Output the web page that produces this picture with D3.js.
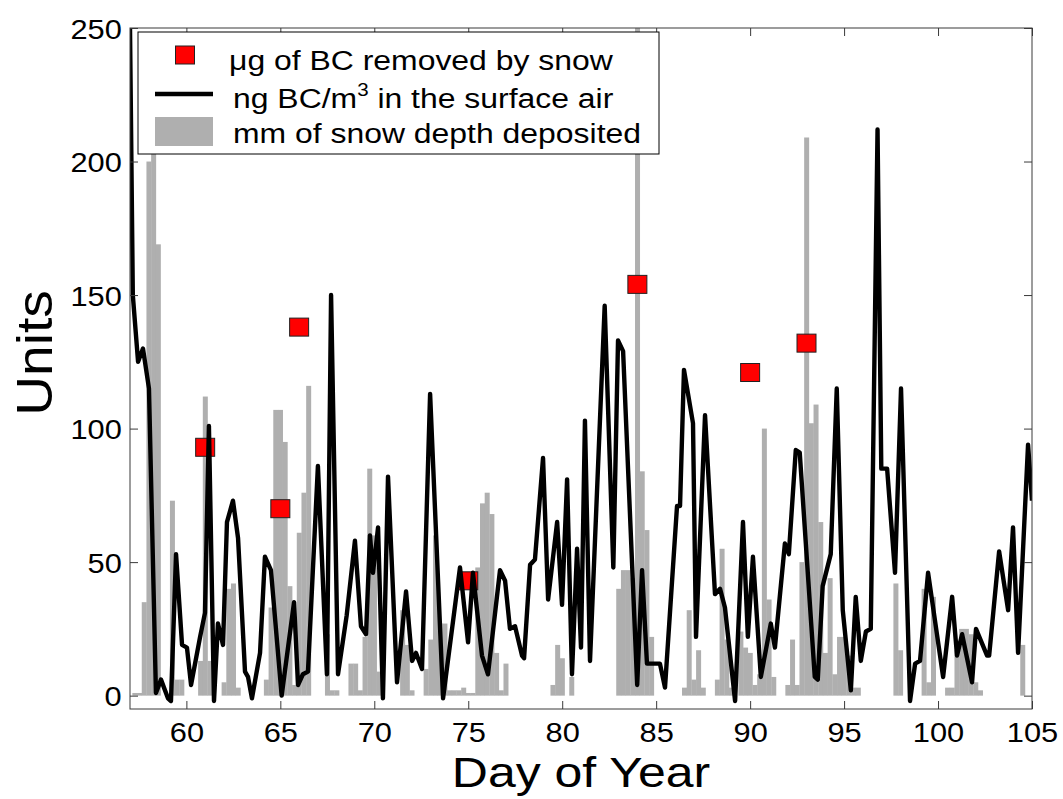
<!DOCTYPE html>
<html>
<head>
<meta charset="utf-8">
<script src="https://cdn.jsdelivr.net/npm/d3@7"></script>
<style>
  body { margin: 0; background: #fff; }
  svg { display: block; }
  text { font-family: "Liberation Sans", Arial, sans-serif; fill: #000; }
</style>
</head>
<body>
<svg id="chart" width="1063" height="799"></svg>
<script>
// Surface-air BC concentration (ng/m3), day of year and value at each vertex
const airDays = [57.00, 57.15, 57.43, 57.69, 58.01, 58.38, 58.65, 59.02, 59.18, 59.45, 59.77, 60.03, 60.25, 60.73, 60.99, 61.20, 61.47, 61.68, 61.95, 62.16, 62.48, 62.75, 63.12, 63.28, 63.49, 63.92, 64.18, 64.50, 65.07, 65.73, 65.94, 66.20, 66.47, 67.00, 67.48, 67.70, 68.07, 68.53, 68.97, 69.29, 69.56, 69.77, 69.93, 70.20, 70.46, 70.73, 71.21, 71.69, 72.01, 72.22, 72.38, 72.54, 72.97, 73.66, 74.56, 74.99, 75.25, 75.73, 76.05, 76.69, 76.96, 77.22, 77.49, 77.86, 77.97, 78.29, 78.55, 78.98, 79.25, 79.73, 79.99, 80.26, 80.52, 80.79, 81.00, 81.21, 81.48, 82.26, 82.72, 82.97, 83.24, 83.99, 84.25, 84.51, 85.20, 85.47, 86.11, 86.27, 86.48, 86.96, 87.12, 87.60, 88.13, 88.40, 88.66, 89.20, 89.62, 89.88, 90.15, 90.57, 91.10, 91.32, 91.85, 92.06, 92.43, 92.64, 93.44, 93.60, 93.86, 94.29, 94.61, 94.93, 95.36, 95.62, 95.89, 96.16, 96.42, 96.78, 96.98, 97.29, 97.71, 98.03, 98.51, 98.78, 99.04, 99.47, 100.27, 100.75, 101.01, 101.28, 101.81, 102.02, 102.61, 102.72, 103.25, 103.73, 103.99, 104.26, 104.79, 105.00];
const airBC = [250, 150, 125, 130, 115, 1, 6, -1, -2, 53, 19, 18, 4, 22, 31, 101, -2, 27, 19, 65, 73, 59, 9, 7, -1, 16, 52, 47, 0, 35, 4, 8, 9, 86, 8, 150, 8, 30, 58, 26, 23, 60, 46, 63, -1, 82, 5, 39, 13, 16, 13, 10, 113, -1, 48, 20, 46, 15, 8, 47, 43, 25, 26, 15, 14, 49, 51, 89, 36, 65, 34, 81, 8, 55, 18, 103, 13, 146, 48, 133, 129, 4, 47, 12, 12, 3, 71, 71, 122, 102, 22, 105, 38, 40, 33, -2, 65, 22, 52, 7, 27, 18, 57, 53, 92, 91, 7, 6, 41, 53, 115, 32, 2, 37, 13, 24, 25, 212, 85, 85, 46, 115, -2, 12, 13, 46, 7, 37, 15, 23, 5, 25, 15, 15, 54, 32, 63, 16, 94, 73];

// Snow depth deposited (mm) per 6-hour step
const snowDays = [57.25, 57.5, 57.75, 58.0, 58.25, 58.5, 59.25, 59.5, 59.75, 60.75, 61.0, 61.25, 62.0, 62.25, 62.5, 62.75, 64.25, 64.5, 64.75, 65.0, 65.25, 65.5, 65.75, 66.0, 66.25, 66.5, 67.5, 67.75, 68.0, 68.75, 69.0, 69.25, 69.5, 69.75, 70.0, 70.25, 71.5, 71.75, 72.0, 72.75, 73.0, 73.25, 73.5, 73.75, 74.0, 74.25, 74.5, 74.75, 75.0, 75.25, 75.5, 75.75, 76.0, 76.25, 76.5, 76.75, 77.0, 79.5, 79.75, 80.0, 80.5, 83.0, 83.25, 83.5, 83.75, 84.0, 84.25, 84.5, 84.75, 86.5, 86.75, 87.0, 87.25, 87.5, 88.25, 88.5, 88.75, 89.0, 89.5, 89.75, 90.0, 90.25, 90.5, 90.75, 91.0, 91.25, 92.0, 92.25, 92.5, 92.75, 93.0, 93.25, 93.5, 93.75, 94.0, 94.25, 94.5, 94.75, 95.0, 95.25, 95.5, 95.75, 97.75, 98.0, 99.25, 99.5, 99.75, 100.5, 100.75, 101.0, 101.25, 101.5, 101.75, 102.0, 102.25, 104.5];
const snowDepth = [1, 1, 35, 200, 220, 169, 73, 6, 6, 13, 112, 13, 5, 40, 42, 3, 6, 33, 107, 107, 95, 41, 4, 61, 76, 116, 23, 2, 2, 12, 12, 2, 22, 85, 60, 9, 32, 19, 2, 10, 21, 60, 27, 27, 2, 2, 2, 3, 1, 1, 48, 72, 76, 68, 16, 2, 12, 4, 19, 14, 7, 40, 47, 47, 44, 260, 84, 62, 22, 3, 32, 6, 17, 3, 6, 55, 21, 3, 24, 18, 16, 4, 8, 100, 36, 7, 4, 21, 4, 50, 209, 102, 109, 65, 16, 44, 8, 22, 22, 15, 3, 3, 42, 17, 40, 5, 37, 3, 3, 17, 25, 25, 23, 5, 2, 19];

// BC removed by snow (ug) for the snow events
const removedDays = [61, 65, 66, 75, 84, 90, 93];
const removedBC = [93, 70, 138, 43, 154, 121, 132];

const xTicks = [60, 65, 70, 75, 80, 85, 90, 95, 100, 105];
const yTicks = [0, 50, 100, 150, 200, 250];
const legendLabels = ["\u03bcg of BC removed by snow", "ng BC/m", "mm of snow depth deposited"];

const plot = { left: 130, right: 1032, top: 28, bottom: 709 };
const stretch = 1.1;             // horizontal stretch of tick labels
const legendStretch = 1.14;      // horizontal stretch of legend text
const barStep = 0.25;            // 6-hourly snow steps
const grayFill = "#afafaf";
const axisColor = "#3a3a3a";
const lineWidth = 4.4;

const svg = d3.select("#chart");

const x = d3.scaleLinear().domain([57, 105]).range([plot.left, plot.right]);
const y = d3.scaleLinear().domain([-5, 250]).range([plot.bottom, plot.top]);

svg.append("defs").append("clipPath").attr("id", "plotClip")
  .append("rect")
  .attr("x", plot.left).attr("y", plot.top)
  .attr("width", plot.right - plot.left).attr("height", plot.bottom - plot.top);

const content = svg.append("g").attr("clip-path", "url(#plotClip)");

// snow-depth bars, each centred on its time step
const barW = x(57 + barStep) - x(57);
content.append("g").selectAll("rect")
  .data(snowDays.map((d, i) => ({ day: d, v: snowDepth[i] })))
  .join("rect")
  .attr("x", d => x(d.day) - barW / 2)
  .attr("width", barW + 0.3)
  .attr("y", d => y(d.v))
  .attr("height", d => y(0) - y(d.v))
  .attr("fill", grayFill);

// BC removed markers
const sqW = 19, sqH = 18;
content.append("g").selectAll("rect")
  .data(removedDays.map((d, i) => ({ day: d, v: removedBC[i] })))
  .join("rect")
  .attr("x", d => x(d.day) - sqW / 2)
  .attr("y", d => y(d.v) - sqH / 2)
  .attr("width", sqW).attr("height", sqH)
  .attr("fill", "#ff0000").attr("stroke", "#222").attr("stroke-width", 1);

// surface air concentration line
const line = d3.line().x(d => x(d[0])).y(d => y(d[1]));
content.append("path")
  .datum(airDays.map((d, i) => [d, airBC[i]]))
  .attr("d", line)
  .attr("fill", "none")
  .attr("stroke", "#000")
  .attr("stroke-width", lineWidth)
  .attr("stroke-linejoin", "round");

// axes box
svg.append("rect")
  .attr("x", plot.left).attr("y", plot.top)
  .attr("width", plot.right - plot.left).attr("height", plot.bottom - plot.top)
  .attr("fill", "none").attr("stroke", axisColor).attr("stroke-width", 1);

function styleAxis(g) {
  g.select(".domain").remove();
  g.selectAll(".tick line").attr("stroke", axisColor).attr("stroke-width", 1);
}

const xAxis = svg.append("g")
  .attr("transform", `translate(0,${plot.bottom})`)
  .call(d3.axisBottom(x).tickValues(xTicks).tickSize(-8).tickSizeOuter(0).tickPadding(0))
  .call(styleAxis);
xAxis.selectAll(".tick text")
  .attr("y", 33).attr("dy", null)
  .attr("font-size", 28)
  .attr("font-family", '"Liberation Sans", Arial, sans-serif')
  .attr("fill", "#000")
  .attr("transform", `scale(${stretch},1)`);

svg.append("g")
  .attr("transform", `translate(0,${plot.top})`)
  .call(d3.axisTop(x).tickValues(xTicks).tickSize(-8).tickSizeOuter(0).tickFormat(""))
  .call(styleAxis);

const yAxis = svg.append("g")
  .attr("transform", `translate(${plot.left},0)`)
  .call(d3.axisLeft(y).tickValues(yTicks).tickSize(-8).tickSizeOuter(0).tickPadding(0))
  .call(styleAxis);
yAxis.selectAll(".tick text")
  .attr("x", -7.5).attr("dy", "0.36em")
  .attr("font-size", 28)
  .attr("font-family", '"Liberation Sans", Arial, sans-serif')
  .attr("fill", "#000")
  .attr("transform", `scale(${stretch},1)`);

svg.append("g")
  .attr("transform", `translate(${plot.right},0)`)
  .call(d3.axisRight(y).tickValues(yTicks).tickSize(-8).tickSizeOuter(0).tickFormat(""))
  .call(styleAxis);

// axis titles
svg.append("g").attr("transform", `translate(${(plot.left + plot.right) / 2},787) scale(1.19,1)`)
  .append("text").attr("text-anchor", "middle").attr("font-size", 42).text("Day of Year");

svg.append("g").attr("transform", `translate(52,353) rotate(-90) scale(1.2,1.1)`)
  .append("text").attr("text-anchor", "middle").attr("font-size", 46).text("Units");

// legend
const lg = svg.append("g");
lg.append("rect").attr("x", 138).attr("y", 32).attr("width", 521).attr("height", 122)
  .attr("fill", "#fff").attr("stroke", "#000").attr("stroke-width", 1);

const rowBase = [70, 108, 143];
const keyL = 155, keyR = 213, keyMid = (keyL + keyR) / 2;

lg.append("rect").attr("x", keyMid - sqW / 2 + 1).attr("y", 46)
  .attr("width", sqW).attr("height", sqH)
  .attr("fill", "#ff0000").attr("stroke", "#222").attr("stroke-width", 1);
lg.append("line").attr("x1", keyL).attr("x2", keyR).attr("y1", 94).attr("y2", 94)
  .attr("stroke", "#000").attr("stroke-width", lineWidth);
lg.append("rect").attr("x", keyL).attr("y", 117).attr("width", keyR - keyL).attr("height", 29)
  .attr("fill", grayFill);

const textX = [229, 233, 233];
lg.append("g").attr("transform", `translate(${textX[0]},${rowBase[0]}) scale(${legendStretch},1)`)
  .append("text").attr("font-size", 28).text(legendLabels[0]);
const t2 = lg.append("g").attr("transform", `translate(${textX[1]},${rowBase[1]}) scale(${legendStretch},1)`)
  .append("text").attr("font-size", 28);
t2.append("tspan").text(legendLabels[1]);
t2.append("tspan").attr("font-size", 18).attr("dy", -12).text("3");
t2.append("tspan").attr("dy", 12).text(" in the surface air");
lg.append("g").attr("transform", `translate(${textX[2]},${rowBase[2]}) scale(${legendStretch},1)`)
  .append("text").attr("font-size", 28).text(legendLabels[2]);
</script>
</body>
</html>
